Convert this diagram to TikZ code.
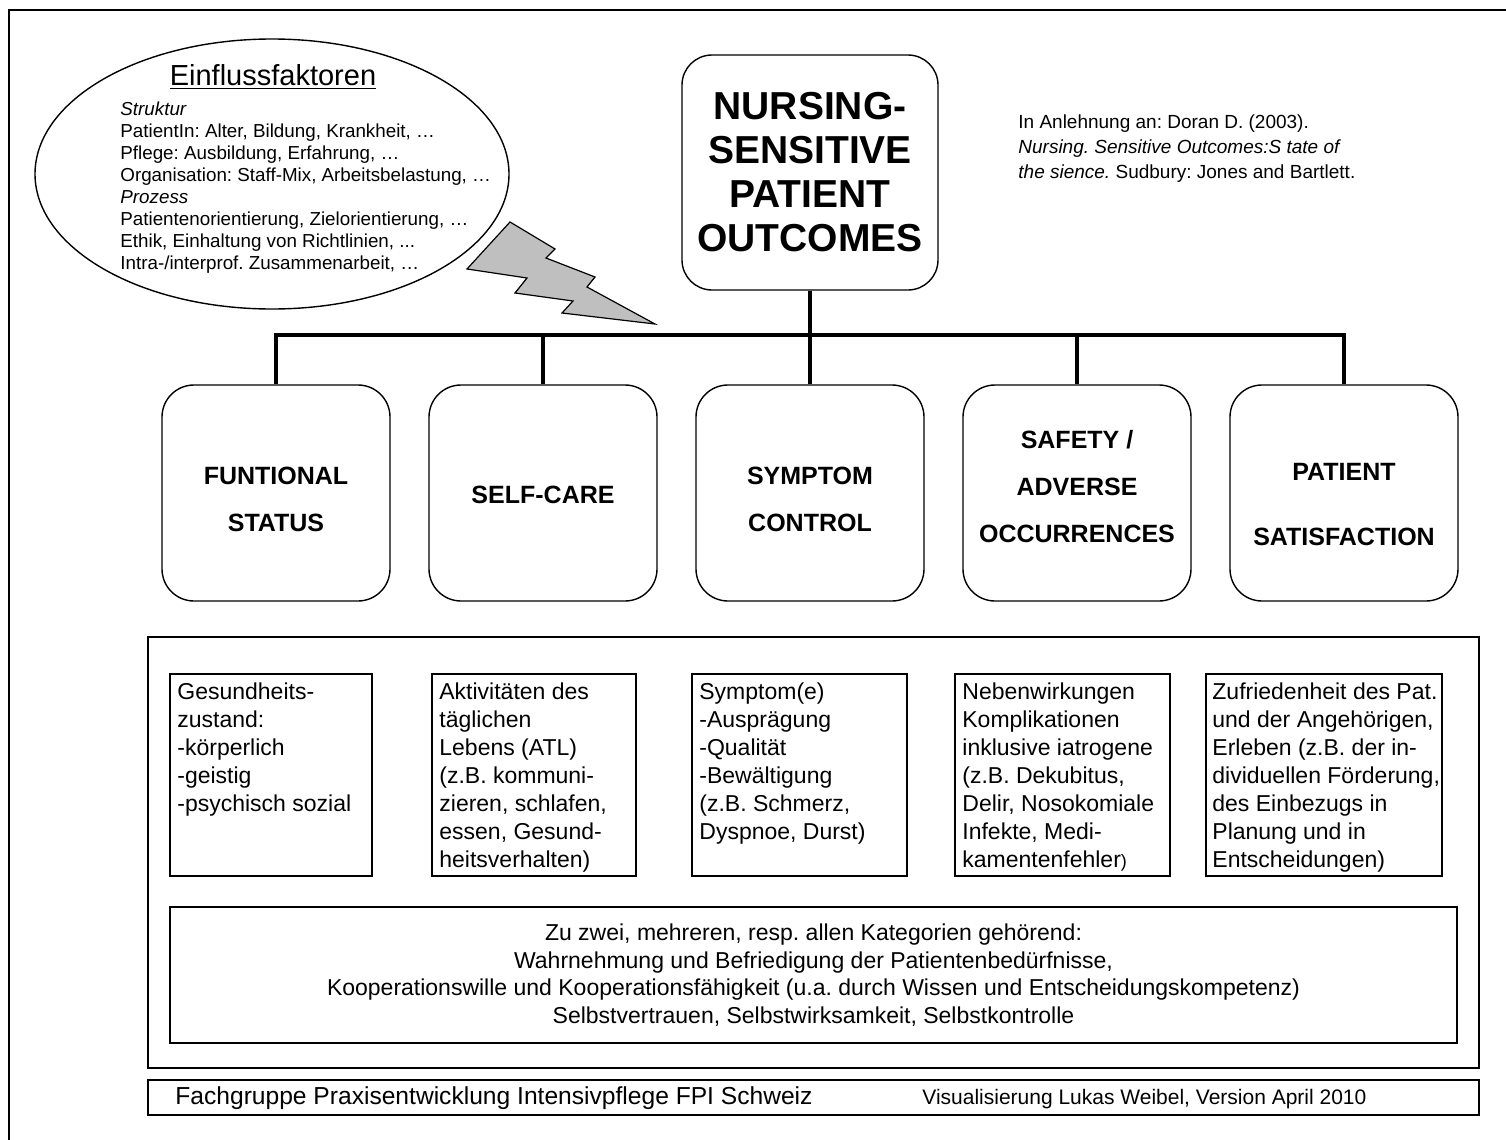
\documentclass[tikz,border=0pt]{standalone}
\usepackage{fontspec}
\setmainfont{Liberation Sans}
\frenchspacing
\usetikzlibrary{shapes.geometric}

\tikzstyle{outcome_box}=[draw,line width=0.7pt,rounded corners=16pt,minimum width=114pt,minimum height=108pt]
\tikzstyle{outcome_text}=[align=center,inner sep=0pt,font=\fontsize{12.5}{23.5}\selectfont\bfseries]
\tikzstyle{detail_box}=[draw,line width=0.7pt,anchor=north west,minimum height=101pt,inner sep=0pt,outer sep=0pt]
\tikzstyle{detail_text}=[anchor=north west,align=left,inner sep=0pt,font=\fontsize{11.5}{14}\selectfont]
\tikzstyle{branch}=[line width=2pt]

\begin{document}
\begin{tikzpicture}[x=0.5pt,y=-0.5pt]
\useasboundingbox (0,0) rectangle (1506,1140);

% page frame (runs off the right and bottom edge)
\draw[line width=0.7pt] (9,1140) -- (9,10) -- (1506,10);

% callout with the influencing factors
\node [ellipse,draw,line width=0.7pt,minimum width=237pt,minimum height=135pt,inner sep=0pt] (factors) at (272,174) {};
\node [anchor=base,font=\fontsize{14.5}{17}\selectfont] (factors_title) at (273,85) {\underline{Einflussfaktoren}};
\node [anchor=north west,align=left,inner sep=0pt,font=\fontsize{9.4}{11}\selectfont] (factors_list) at (120,101)
  {\textit{Struktur}\\
   PatientIn: Alter, Bildung, Krankheit, \dots\\
   Pflege: Ausbildung, Erfahrung, \dots\\
   Organisation: Staff-Mix, Arbeitsbelastung, \dots\\
   \textit{Prozess}\\
   Patientenorientierung, Zielorientierung, \dots\\
   Ethik, Einhaltung von Richtlinien, ...\\
   Intra-/interprof. Zusammenarbeit, \dots};

% lightning bolt
\draw[fill=black!25,line width=0.6pt] (510,222) -- (555,249) -- (546,258) -- (595,277) -- (587,287) -- (655,324)
  -- (562,313) -- (573,301) -- (515,293) -- (527,278) -- (467,269) -- cycle;

% main box
\node [draw,line width=0.7pt,rounded corners=15pt,minimum width=128pt,minimum height=117.5pt,align=center,
  font=\fontsize{19.5}{22}\selectfont\bfseries] (outcomes) at (810,172.5) {NURSING-\\SENSITIVE\\PATIENT\\OUTCOMES};

\node [anchor=north west,align=left,inner sep=0pt,font=\fontsize{9.5}{12.5}\selectfont] (source) at (1018,114)
  {In Anlehnung an: Doran D. (2003).\\
   \textit{Nursing. Sensitive Outcomes:S tate of}\\
   \textit{the sience.} Sudbury: Jones and Bartlett.};

% the five outcome categories
\node [outcome_box] (outcome1) at (276,493) {};
\node [outcome_box] (outcome2) at (543,493) {};
\node [outcome_box] (outcome3) at (810,493) {};
\node [outcome_box] (outcome4) at (1077,493) {};
\node [outcome_box] (outcome5) at (1344,493) {};

\node [outcome_text] (label1) at ([yshift=-3pt]outcome1.center) {FUNTIONAL\\STATUS};
\node [outcome_text] (label2) at ([yshift=-1pt]outcome2.center) {SELF-CARE};
\node [outcome_text] (label3) at ([yshift=-3pt]outcome3.center) {SYMPTOM\\CONTROL};
\node [outcome_text] (label4) at ([yshift=3pt]outcome4.center) {SAFETY /\\ADVERSE\\OCCURRENCES};
\node [outcome_text] (label5) at ([yshift=-6pt]outcome5.center) {PATIENT\\[9pt]SATISFACTION};

\coordinate (bar) at (810,335);
\foreach \n in {1,...,5}
  \draw[branch] (outcomes.south) |- (bar) -| (outcome\n.north);

% indicators
\node [draw,line width=0.7pt,anchor=north west,minimum width=665.5pt,minimum height=215.5pt,inner sep=0pt,outer sep=0pt] (details) at (148,637) {};

\node [detail_box,minimum width=101pt] (detail1) at (170,674) {};
\node [detail_box,minimum width=102pt] (detail2) at (432,674) {};
\node [detail_box,minimum width=107.5pt] (detail3) at (692,674) {};
\node [detail_box,minimum width=107.5pt] (detail4) at (955,674) {};
\node [detail_box,minimum width=118pt] (detail5) at (1206,674) {};

\node [detail_text] (text1) at (177,682) {Gesundheits-\\zustand:\\-körperlich\\-geistig\\-psychisch sozial};
\node [detail_text] (text2) at (439,682) {Aktivitäten des\\täglichen\\Lebens (ATL)\\(z.B. kommuni-\\zieren, schlafen,\\essen, Gesund-\\heitsverhalten)};
\node [detail_text] (text3) at (699,682) {Symptom(e)\\-Ausprägung\\-Qualität\\-Bewältigung\\(z.B. Schmerz,\\Dyspnoe, Durst)};
\node [detail_text] (text4) at (962,682) {Nebenwirkungen\\Komplikationen\\inklusive iatrogene\\(z.B. Dekubitus,\\Delir, Nosokomiale\\Infekte, Medi-\\kamentenfehler{\fontsize{9}{14}\selectfont)}};
\node [detail_text] (text5) at (1212,682) {Zufriedenheit des Pat.\\und der Angehörigen,\\Erleben (z.B. der in-\\dividuellen Förderung,\\des Einbezugs in\\Planung und in\\Entscheidungen)};

\node [draw,line width=0.7pt,anchor=north west,minimum width=643.5pt,minimum height=68pt,inner sep=0pt,outer sep=0pt,
  align=center,font=\fontsize{11.5}{13.75}\selectfont] (shared) at (170,907)
  {Zu zwei, mehreren, resp. allen Kategorien gehörend:\\
   Wahrnehmung und Befriedigung der Patientenbedürfnisse,\\
   Kooperationswille und Kooperationsfähigkeit (u.a. durch Wissen und Entscheidungskompetenz)\\
   Selbstvertrauen, Selbstwirksamkeit, Selbstkontrolle};

% footer
\node [draw,line width=0.7pt,anchor=north west,minimum width=665.5pt,minimum height=17.5pt,inner sep=0pt,outer sep=0pt] (footer) at (148,1080) {};
\node [anchor=west,inner sep=0pt,font=\fontsize{12.3}{15}\selectfont] (group) at (175,1098) {Fachgruppe Praxisentwicklung Intensivpflege FPI Schweiz};
\node [anchor=west,inner sep=0pt,font=\fontsize{10.5}{12}\selectfont] (credit) at (922,1099) {Visualisierung Lukas Weibel, Version April 2010};

\end{tikzpicture}
\end{document}
